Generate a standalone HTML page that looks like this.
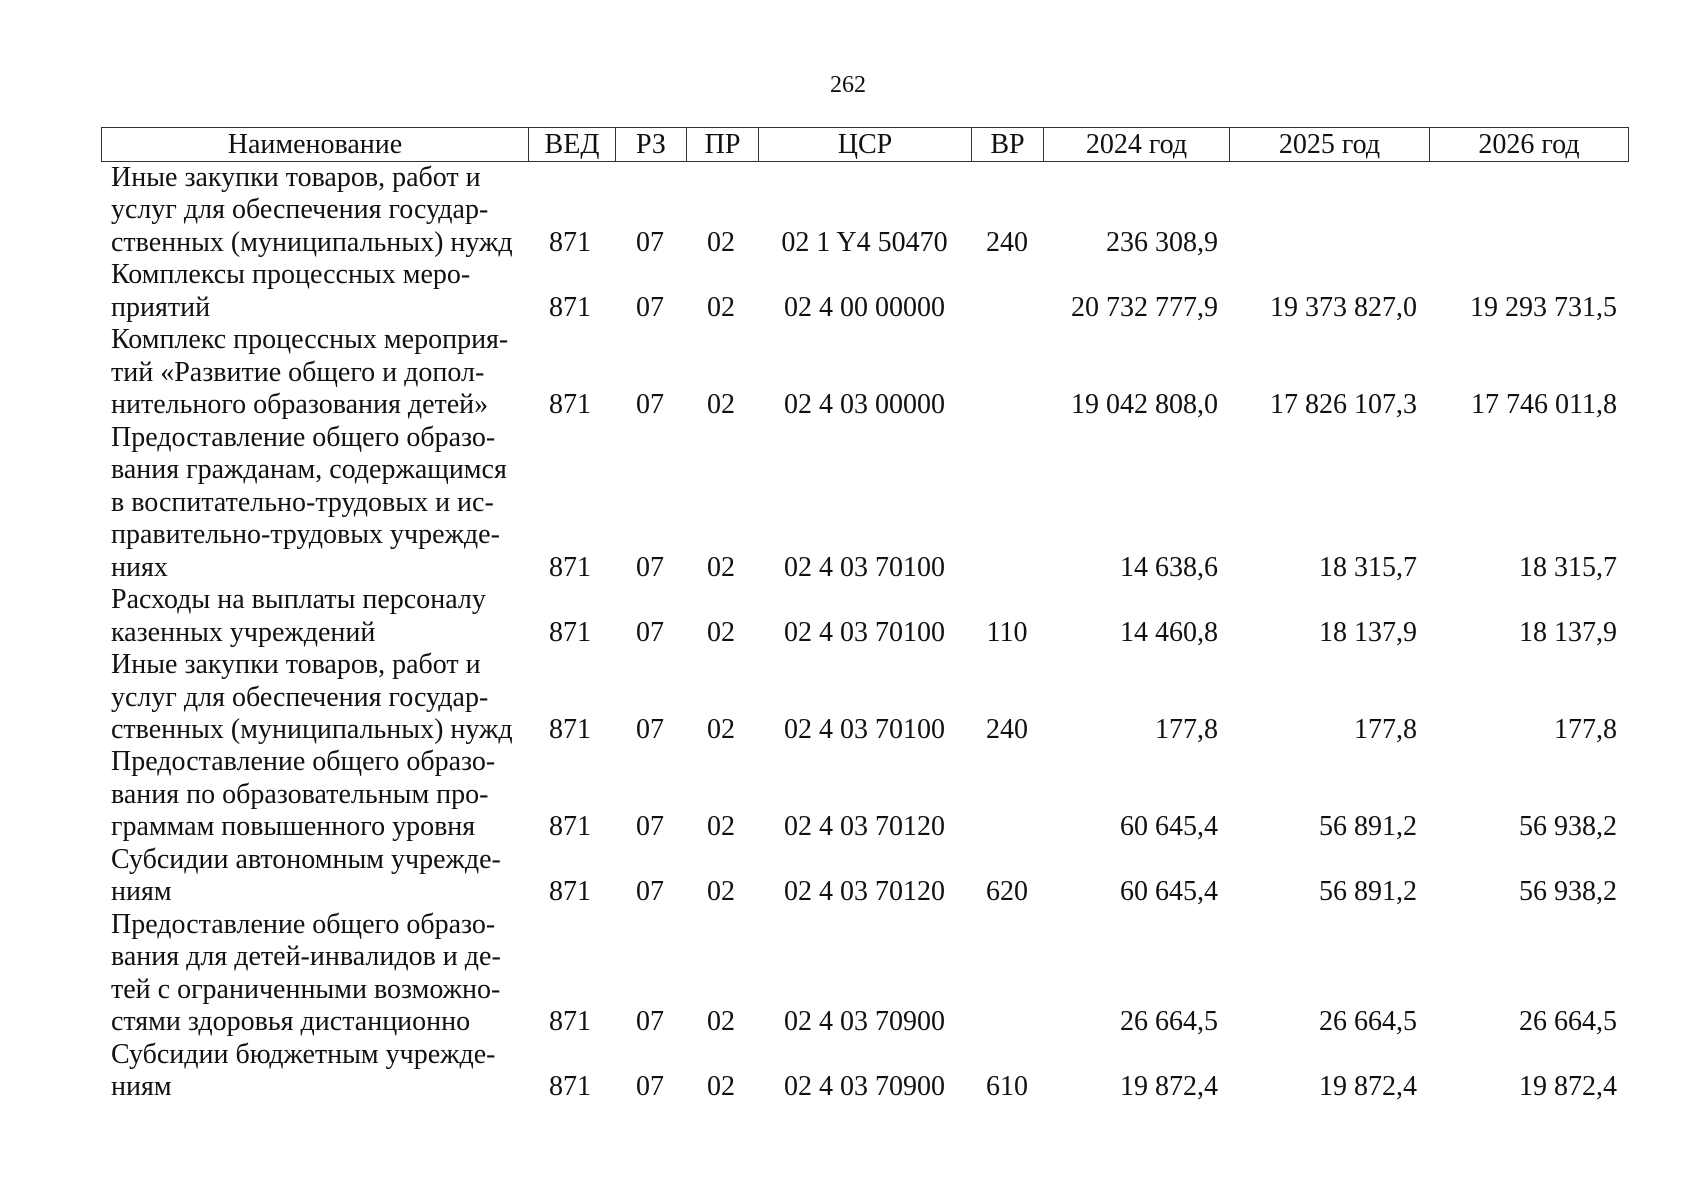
<!DOCTYPE html>
<html><head><meta charset="utf-8"><style>
body{margin:0;width:1697px;height:1200px;background:#fff;position:relative;font-family:"Liberation Serif",serif;font-size:28px;color:#111;overflow:hidden}
.a{position:absolute;white-space:nowrap;line-height:32.47px}
.hd{position:absolute;top:127px;height:35px;border:1.5px solid #333;border-right:none;box-sizing:border-box;text-align:center;line-height:33px}
.c{text-align:center}.r{text-align:right}
</style></head><body>
<div class="a" style="left:818px;top:69px;width:60px;text-align:center;font-size:24px">262</div>
<div class="hd" style="left:101px;width:427px">Наименование</div>
<div class="hd" style="left:528px;width:87px">ВЕД</div>
<div class="hd" style="left:615px;width:71px">РЗ</div>
<div class="hd" style="left:686px;width:72px">ПР</div>
<div class="hd" style="left:758px;width:213px">ЦСР</div>
<div class="hd" style="left:971px;width:72px">ВР</div>
<div class="hd" style="left:1043px;width:186px">2024 год</div>
<div class="hd" style="left:1229px;width:200px">2025 год</div>
<div class="hd" style="left:1429px;width:200px;border-right:1.5px solid #333">2026 год</div>
<div id="b"></div>
<script>
var E=[
[0,["Иные закупки товаров, работ и","услуг для обеспечения государ-","ственных (муниципальных) нужд"],"02 1 Y4 50470","240","236 308,9","",""],
[3,["Комплексы процессных меро-","приятий"],"02 4 00 00000","","20 732 777,9","19 373 827,0","19 293 731,5"],
[5,["Комплекс процессных мероприя-","тий «Развитие общего и допол-","нительного образования детей»"],"02 4 03 00000","","19 042 808,0","17 826 107,3","17 746 011,8"],
[8,["Предоставление общего образо-","вания гражданам, содержащимся","в воспитательно-трудовых и ис-","правительно-трудовых учрежде-","ниях"],"02 4 03 70100","","14 638,6","18 315,7","18 315,7"],
[13,["Расходы на выплаты персоналу","казенных учреждений"],"02 4 03 70100","110","14 460,8","18 137,9","18 137,9"],
[15,["Иные закупки товаров, работ и","услуг для обеспечения государ-","ственных (муниципальных) нужд"],"02 4 03 70100","240","177,8","177,8","177,8"],
[18,["Предоставление общего образо-","вания по образовательным про-","граммам повышенного уровня"],"02 4 03 70120","","60 645,4","56 891,2","56 938,2"],
[21,["Субсидии автономным учрежде-","ниям"],"02 4 03 70120","620","60 645,4","56 891,2","56 938,2"],
[23,["Предоставление общего образо-","вания для детей-инвалидов и де-","тей с ограниченными возможно-","стями здоровья дистанционно"],"02 4 03 70900","","26 664,5","26 664,5","26 664,5"],
[27,["Субсидии бюджетным учрежде-","ниям"],"02 4 03 70900","610","19 872,4","19 872,4","19 872,4"]];
var h="",L=32.47,T0=162;
E.forEach(function(e){var t=T0+L*e[0];
e[1].forEach(function(s,i){h+='<div class="a" style="left:111px;top:'+(t+L*i)+'px">'+s+'</div>';});
var y=t+L*(e[1].length-1);
function c(x,w,cls,s){h+='<div class="a '+cls+'" style="left:'+x+'px;width:'+w+'px;top:'+y+'px">'+s+'</div>';}
c(530,80,"c","871");c(615,70,"c","07");c(686,70,"c","02");c(758,213,"c",e[2]);c(971,72,"c",e[3]);
c(1043,175,"r",e[4]);c(1229,188,"r",e[5]);c(1429,188,"r",e[6]);});
document.getElementById("b").innerHTML=h;
</script>
</body></html>
